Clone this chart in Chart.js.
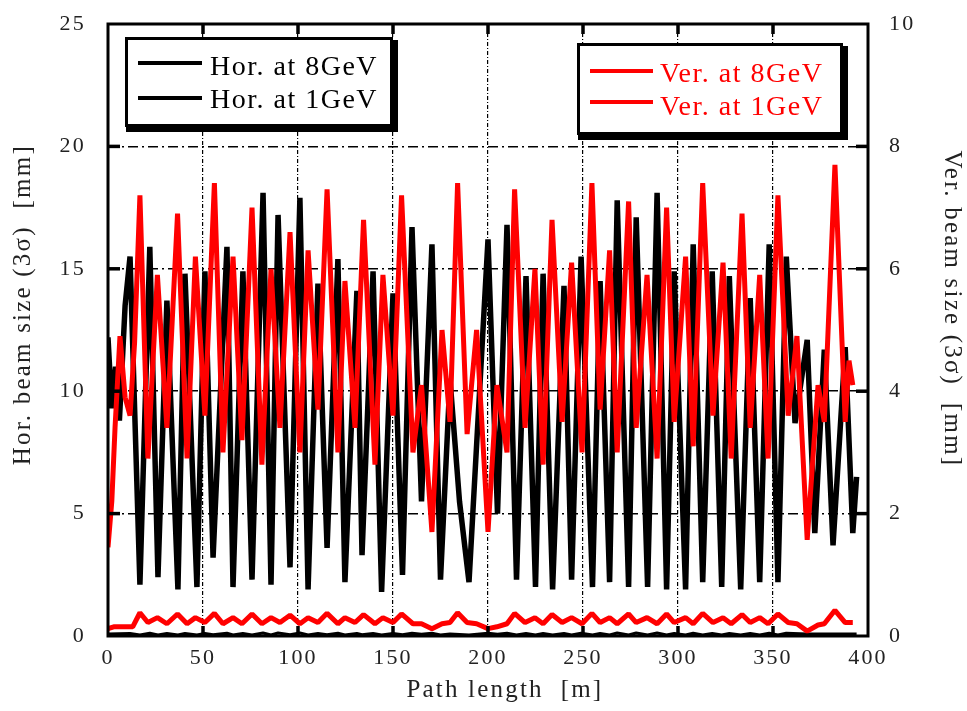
<!DOCTYPE html>
<html><head><meta charset="utf-8">
<script src="https://cdn.jsdelivr.net/npm/chart.js@4/dist/chart.umd.min.js"></script>
<style>html,body{margin:0;padding:0;background:#fff}#wrap{width:967px;height:711px;position:relative}</style>
</head><body><div id="wrap"><canvas id="c" width="967" height="711"></canvas></div>
<script>
// ---- Data ----
const xTicks = [0,50,100,150,200,250,300,350,400];
const yLeftTicks = [0,5,10,15,20,25];
const yRightTicks = [0,2,4,6,8,10];

// Hor. at 1GeV (large black curve, left axis, mm)
const hor1_s = [0,2,4,6,9,11.6,16.8,22,26.3,31,36.8,40.5,46.8,51,55.3,62.6,65.8,71,75.8,81.6,85.8,89.5,95.8,101,105.3,110.5,115.3,121,124.7,131,133.7,139.5,144,150,155,160,165,170.5,175,180,185,190,200,205,210,215,220,225,229,234,240,244,249,255,259,264,268,274,278,284,289,294,298,304,308,313,318,323,327,333,338,343,348,352.6,357,361.6,368,372,377,381.6,388,392,394];
const hor1_v = [12.2,9.3,11,8.8,13.5,15.5,2.1,15.9,2.4,13.7,1.9,14.8,2.0,14.9,3.2,15.9,2.0,14.9,2.3,18.1,2.1,17.2,2.8,17.9,1.9,14.4,3.6,15.4,2.2,14.1,3.3,14.9,1.8,14.0,2.5,16.7,5.5,16.0,2.3,10.5,5.5,2.2,16.2,5.0,16.8,2.3,14.7,2.0,14.8,1.9,14.3,2.3,15.5,2.0,14.5,2.2,17.8,2.0,17.1,2.0,18.1,1.9,14.9,1.9,16.0,2.2,14.9,2.0,14.7,1.9,13.8,2.2,16.0,2.2,15.5,8.7,12.1,4.2,11.7,3.7,11.8,4.2,6.5];

// Hor. at 8GeV (small black curve, left axis, mm) - lies along the bottom frame
const hor8_s = [0,11.6,16.8,22,26.3,31,36.8,40.5,46.8,51,55.3,62.6,65.8,71,75.8,81.6,85.8,89.5,95.8,101,105.3,110.5,115.3,121,124.7,131,133.7,139.5,144,150,155,160,165,170.5,175,180,190,200,205,210,215,220,225,229,234,240,244,249,255,259,264,268,274,278,284,289,294,298,304,308,313,318,323,327,333,338,343,348,352.6,357,368,377,388,394];
const hor8_v = [0.08,0.1,0.04,0.11,0.04,0.1,0.04,0.1,0.04,0.1,0.05,0.11,0.04,0.1,0.04,0.12,0.04,0.12,0.05,0.12,0.04,0.1,0.05,0.11,0.04,0.1,0.05,0.1,0.04,0.1,0.05,0.11,0.07,0.11,0.04,0.08,0.04,0.11,0.07,0.11,0.04,0.1,0.04,0.1,0.04,0.1,0.04,0.11,0.04,0.1,0.04,0.12,0.04,0.12,0.04,0.12,0.04,0.1,0.04,0.11,0.04,0.1,0.04,0.1,0.04,0.1,0.04,0.11,0.04,0.11,0.08,0.08,0.08,0.08];

// Ver. at 1GeV (large red curve, right axis, mm)
const ver1_s = [0,2,3.7,6.3,9,11.6,14,16.8,21,26,31,36.6,41.6,46,51,56,60.5,65.8,70.5,75.8,81,85.8,90.5,95.8,101,105.3,110.5,115.3,121,124.7,130,134.5,140.5,144.7,150,154.5,160.5,165,170.5,175.8,180,184,189,194,200,204.7,210,214,219.5,224.7,229,233.7,239,244,249.5,254.7,259,264,268,274,278,283.7,289,294,298,304,308,313,318.4,323.7,328,333.7,338,343,347.4,352.6,358,362.6,368,373.7,377,382.6,388,390,392];
const ver1_v = [1.45,2.2,3.4,4.9,3.9,3.6,4.8,7.2,2.9,5.9,3.4,6.9,2.9,6.2,3.6,7.4,3.0,6.2,3.2,7.0,2.8,6.0,3.4,6.6,3.0,6.3,3.7,7.3,3.0,5.8,3.4,6.8,2.8,5.9,3.6,7.2,3.0,4.1,1.7,5.0,3.5,7.4,3.3,5.0,1.7,4.1,3.0,7.3,3.4,6.0,2.8,6.8,3.5,6.1,3.0,7.4,3.7,6.3,3.0,7.1,3.4,5.9,2.9,7.0,3.5,6.2,3.1,7.4,3.6,6.1,2.9,6.9,3.4,5.9,2.9,7.2,3.6,4.9,1.57,4.1,3.5,7.7,3.5,4.5,4.1];

// Ver. at 8GeV (small red curve, right axis, mm)
const ver8_s = [0,3,13,16.8,21,26,31,36.6,41.6,46,51,56,60.5,65.8,70.5,75.8,81,85.8,90.5,95.8,101,105.3,110.5,115.3,121,124.7,130,134.5,140.5,144.7,150,154.5,160.5,165,170.5,175.8,180,184,189,194,200,204.7,210,214,219.5,224.7,229,233.7,239,244,249.5,254.7,259,264,268,274,278,283.7,289,294,298,304,308,313,318.4,323.7,328,333.7,338,343,347.4,352.6,358,362.6,368,373.7,377,382.6,388,392];
const ver8_v = [0.12,0.15,0.15,0.38,0.22,0.3,0.2,0.36,0.2,0.3,0.22,0.37,0.2,0.3,0.2,0.36,0.2,0.3,0.22,0.34,0.2,0.3,0.22,0.37,0.2,0.3,0.22,0.35,0.2,0.3,0.22,0.36,0.2,0.2,0.12,0.2,0.22,0.38,0.22,0.2,0.12,0.15,0.2,0.37,0.22,0.3,0.2,0.35,0.22,0.3,0.2,0.37,0.22,0.3,0.2,0.36,0.22,0.3,0.2,0.36,0.22,0.3,0.2,0.37,0.22,0.3,0.2,0.35,0.22,0.3,0.2,0.36,0.22,0.2,0.08,0.18,0.2,0.42,0.22,0.22];

const pts = (s, v) => s.map((x, i) => ({x: x, y: v[i]}));

const FONT = "'Liberation Serif', 'Times New Roman', serif";
const RED = '#ff0000';
const SPACING = '2.2px';

const spacingPlugin = {
  id: 'spacing',
  beforeLayout(chart) { try { chart.ctx.letterSpacing = SPACING; } catch (e) {} },
  beforeDraw(chart) { try { chart.ctx.letterSpacing = SPACING; } catch (e) {} }
};

const framePlugin = {
  id: 'frame',
  afterDatasetsDraw(chart) {
    const {ctx, chartArea: a, scales} = chart;
    ctx.save();
    ctx.strokeStyle = '#000';
    ctx.lineWidth = 3.5;
    ctx.lineCap = 'butt';
    xTicks.forEach(v => {
      if (v === xTicks[0] || v === xTicks[xTicks.length-1]) return;
      const px = scales.x.getPixelForValue(v);
      ctx.beginPath(); ctx.moveTo(px, a.top); ctx.lineTo(px, a.top + 10); ctx.stroke();
      ctx.beginPath(); ctx.moveTo(px, a.bottom); ctx.lineTo(px, a.bottom - 10); ctx.stroke();
    });
    yLeftTicks.forEach(v => {
      if (v === 0 || v === 25) return;
      const py = scales.y.getPixelForValue(v);
      ctx.beginPath(); ctx.moveTo(a.left, py); ctx.lineTo(a.left + 12, py); ctx.stroke();
    });
    yRightTicks.forEach(v => {
      if (v === 0 || v === 10) return;
      const py = scales.y2.getPixelForValue(v);
      ctx.beginPath(); ctx.moveTo(a.right, py); ctx.lineTo(a.right - 12, py); ctx.stroke();
    });
    ctx.lineWidth = 3;
    ctx.strokeRect(a.left, a.top, a.right - a.left, a.bottom - a.top);
    ctx.restore();
  },
  afterDraw(chart) {
    const ctx = chart.ctx;
    ctx.save();
    const box = (x0, y0, x1, y1) => {
      ctx.fillStyle = '#fff';
      ctx.fillRect(x0, y0, x1 - x0, y1 - y0);
      ctx.strokeStyle = '#000';
      ctx.lineWidth = 3;
      ctx.strokeRect(x0 + 1.5, y0 + 1.5, x1 - x0 - 8, y1 - y0 - 8);
      ctx.fillStyle = '#000';
      ctx.fillRect(x0 + 1, y1 - 7, x1 - x0 - 1, 7);
      ctx.fillRect(x1 - 6, y0 + 3, 6, y1 - y0 - 3);
    };
    const entry = (x0, x1, y, tx, ty, label, color) => {
      ctx.strokeStyle = color;
      ctx.lineWidth = 4;
      ctx.beginPath(); ctx.moveTo(x0, y); ctx.lineTo(x1, y); ctx.stroke();
      ctx.fillStyle = color;
      ctx.font = '28px ' + FONT;
      ctx.textBaseline = 'alphabetic';
      ctx.textAlign = 'left';
      try { ctx.letterSpacing = '1.5px'; } catch (e) {}
      ctx.fillText(label, tx, ty);
    };
    box(125, 37, 398, 132);
    entry(138, 202, 63, 210, 75, chart.data.datasets[2].label, '#000');
    entry(138, 202, 98, 210, 108, chart.data.datasets[3].label, '#000');
    box(577, 43, 848, 140);
    entry(590, 653, 71, 660, 82, chart.data.datasets[0].label, RED);
    entry(590, 653, 102, 660, 115, chart.data.datasets[1].label, RED);
    ctx.restore();
  }
};

const edgeColor = (lo, hi) => (c) => (c.tick && (c.tick.value === lo || c.tick.value === hi)) ? 'rgba(0,0,0,0)' : '#000';
const noPad = s => { s.paddingTop = 0; s.paddingBottom = 0; s.paddingLeft = 0; s.paddingRight = 0; };

new Chart(document.getElementById('c'), {
  type: 'line',
  data: {
    datasets: [
      {label: 'Ver. at 8GeV', data: pts(ver8_s, ver8_v), yAxisID: 'y2', borderColor: RED, borderWidth: 5},
      {label: 'Ver. at 1GeV', data: pts(ver1_s, ver1_v), yAxisID: 'y2', borderColor: RED, borderWidth: 5},
      {label: 'Hor. at 8GeV', data: pts(hor8_s, hor8_v), yAxisID: 'y', borderColor: '#000', borderWidth: 3},
      {label: 'Hor. at 1GeV', data: pts(hor1_s, hor1_v), yAxisID: 'y', borderColor: '#000', borderWidth: 5.5}
    ]
  },
  options: {
    responsive: false,
    animation: false,
    devicePixelRatio: 1,
    elements: {point: {radius: 0}, line: {tension: 0, borderJoinStyle: 'bevel', fill: false}},
    layout: {padding: {top: 24, left: 0, right: 0, bottom: 0}},
    plugins: {legend: {display: false}, tooltip: {enabled: false}},
    scales: {
      x: {
        type: 'linear', min: 0, max: 400,
        afterBuildTicks: s => { s.ticks = xTicks.map(v => ({value: v})); },
        afterFit: s => { s.height = 75; noPad(s); },
        grid: {color: edgeColor(0, 400), lineWidth: 1.2, drawTicks: false},
        border: {display: false, dash: [4, 2, 1, 2]},
        ticks: {font: {family: FONT, size: 22}, color: '#222', padding: 9, maxRotation: 0},
        title: {display: true, text: '    Path length  [m]', font: {family: FONT, size: 25}, color: '#222', padding: {top: 0, bottom: 6}}
      },
      y: {
        type: 'linear', position: 'left', min: 0, max: 25,
        afterBuildTicks: s => { s.ticks = yLeftTicks.map(v => ({value: v})); },
        afterFit: s => { s.width = 108; noPad(s); },
        grid: {color: edgeColor(0, 25), lineWidth: 1.5, drawTicks: false},
        border: {display: false, dash: [10, 4, 2, 4]},
        ticks: {font: {family: FONT, size: 22}, color: '#222', padding: 22},
        title: {display: true, text: '      Hor. beam size (3σ)  [mm]', font: {family: FONT, size: 25}, color: '#222', padding: {top: 8, bottom: 0}}
      },
      y2: {
        type: 'linear', position: 'right', min: 0, max: 10,
        afterBuildTicks: s => { s.ticks = yRightTicks.map(v => ({value: v})); },
        afterFit: s => { s.width = 99; noPad(s); },
        grid: {display: false, drawOnChartArea: false},
        border: {display: false},
        ticks: {font: {family: FONT, size: 22}, color: '#222', padding: 13},
        title: {display: true, text: 'Ver. beam size (3σ)  [mm]     ', font: {family: FONT, size: 25}, color: '#222', padding: {top: 0, bottom: 6}}
      }
    }
  },
  plugins: [spacingPlugin, framePlugin]
});
</script></body></html>
